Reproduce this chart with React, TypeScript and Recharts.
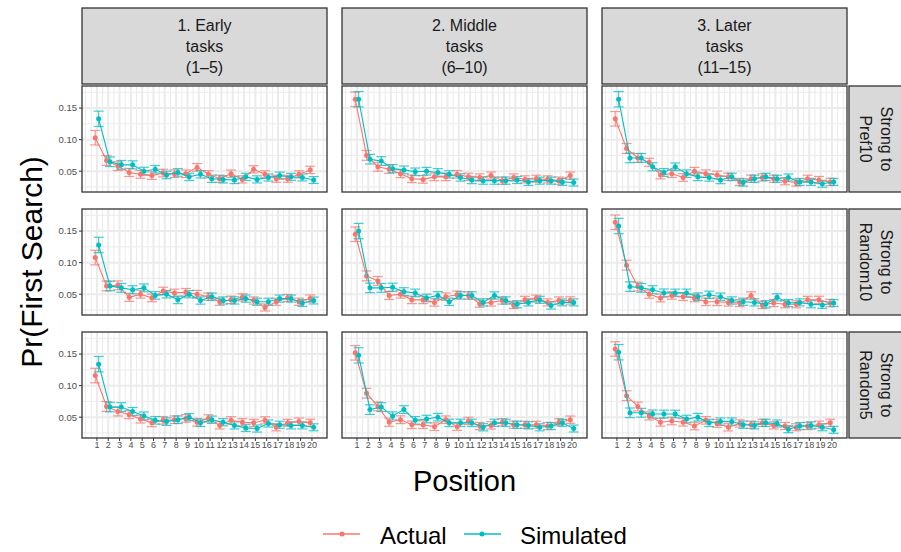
import React from "react";
import { ComposedChart, Scatter, ErrorBar, XAxis, YAxis, CartesianGrid } from "recharts";

const FONT = "'Liberation Sans', Arial, Helvetica, sans-serif";
const RED = "#F8766D";
const CYAN = "#00BFC4";

const positions = [1, 2, 3, 4, 5, 6, 7, 8, 9, 10, 11, 12, 13, 14, 15, 16, 17, 18, 19, 20];
const yTicks = [0.05, 0.1, 0.15];
const yMinor = [0.025, 0.075, 0.125, 0.175];
const xMinor = [0, 0.5, 1.5, 2.5, 3.5, 4.5, 5.5, 6.5, 7.5, 8.5, 9.5, 10.5, 11.5, 12.5, 13.5, 14.5, 15.5, 16.5, 17.5, 18.5, 19.5, 20.5, 21];

const colLabels = [
  ["1. Early", "tasks", "(1–5)"],
  ["2. Middle", "tasks", "(6–10)"],
  ["3. Later", "tasks", "(11–15)"],
];
const rowLabels = [
  ["Strong to", "Pref10"],
  ["Strong to", "Random10"],
  ["Strong to", "Random5"],
];

// Pref10
const actualPref10Early = [0.103, 0.067, 0.058, 0.048, 0.045, 0.043, 0.047, 0.046, 0.046, 0.056, 0.045, 0.038, 0.046, 0.037, 0.053, 0.045, 0.038, 0.038, 0.045, 0.052];
const simPref10Early = [0.133, 0.065, 0.06, 0.06, 0.05, 0.053, 0.044, 0.048, 0.041, 0.045, 0.038, 0.037, 0.036, 0.041, 0.037, 0.04, 0.043, 0.041, 0.04, 0.036];
const actualPref10Middle = [0.164, 0.075, 0.057, 0.053, 0.046, 0.038, 0.037, 0.041, 0.041, 0.045, 0.041, 0.04, 0.043, 0.035, 0.04, 0.037, 0.038, 0.037, 0.035, 0.043];
const simPref10Middle = [0.164, 0.069, 0.066, 0.054, 0.052, 0.049, 0.05, 0.048, 0.045, 0.04, 0.036, 0.035, 0.035, 0.035, 0.036, 0.033, 0.035, 0.035, 0.033, 0.032];
const actualPref10Later = [0.133, 0.086, 0.071, 0.064, 0.044, 0.046, 0.04, 0.05, 0.046, 0.044, 0.041, 0.033, 0.038, 0.04, 0.038, 0.034, 0.032, 0.038, 0.036, 0.033];
const simPref10Later = [0.164, 0.071, 0.071, 0.057, 0.048, 0.057, 0.046, 0.041, 0.04, 0.036, 0.041, 0.032, 0.038, 0.041, 0.038, 0.04, 0.033, 0.033, 0.03, 0.033];

// Random10
const actualRandom10Early = [0.108, 0.063, 0.064, 0.045, 0.05, 0.044, 0.055, 0.052, 0.053, 0.05, 0.046, 0.038, 0.041, 0.045, 0.04, 0.029, 0.038, 0.044, 0.038, 0.043];
const simRandom10Early = [0.128, 0.063, 0.06, 0.057, 0.06, 0.048, 0.05, 0.041, 0.05, 0.04, 0.046, 0.04, 0.04, 0.043, 0.038, 0.038, 0.043, 0.043, 0.036, 0.04];
const actualRandom10Middle = [0.145, 0.079, 0.071, 0.048, 0.05, 0.041, 0.041, 0.037, 0.046, 0.049, 0.048, 0.035, 0.037, 0.04, 0.033, 0.041, 0.043, 0.037, 0.04, 0.04];
const simRandom10Middle = [0.15, 0.06, 0.06, 0.061, 0.054, 0.052, 0.044, 0.048, 0.038, 0.048, 0.048, 0.037, 0.048, 0.04, 0.034, 0.037, 0.041, 0.032, 0.037, 0.037];
const actualRandom10Later = [0.164, 0.096, 0.062, 0.05, 0.044, 0.048, 0.046, 0.044, 0.038, 0.038, 0.037, 0.036, 0.048, 0.033, 0.036, 0.034, 0.034, 0.041, 0.041, 0.036];
const simRandom10Later = [0.158, 0.062, 0.06, 0.057, 0.052, 0.052, 0.052, 0.046, 0.049, 0.046, 0.04, 0.038, 0.037, 0.034, 0.045, 0.036, 0.037, 0.034, 0.033, 0.036];

// Random5
const actualRandom5Early = [0.116, 0.067, 0.059, 0.054, 0.047, 0.041, 0.045, 0.046, 0.048, 0.042, 0.048, 0.037, 0.045, 0.042, 0.041, 0.045, 0.034, 0.041, 0.043, 0.041];
const simRandom5Early = [0.134, 0.066, 0.066, 0.059, 0.052, 0.045, 0.043, 0.046, 0.05, 0.041, 0.046, 0.042, 0.037, 0.033, 0.032, 0.04, 0.038, 0.037, 0.037, 0.034];
const actualRandom5Middle = [0.152, 0.088, 0.067, 0.042, 0.046, 0.038, 0.038, 0.035, 0.046, 0.035, 0.044, 0.036, 0.037, 0.042, 0.038, 0.038, 0.038, 0.036, 0.042, 0.046];
const simRandom5Middle = [0.148, 0.062, 0.066, 0.052, 0.062, 0.045, 0.047, 0.05, 0.041, 0.041, 0.041, 0.034, 0.041, 0.041, 0.038, 0.037, 0.034, 0.036, 0.041, 0.032];
const actualRandom5Later = [0.158, 0.084, 0.067, 0.052, 0.042, 0.044, 0.042, 0.036, 0.045, 0.04, 0.034, 0.04, 0.038, 0.041, 0.037, 0.036, 0.034, 0.036, 0.038, 0.041];
const simRandom5Later = [0.153, 0.057, 0.057, 0.055, 0.055, 0.055, 0.047, 0.05, 0.041, 0.043, 0.043, 0.038, 0.037, 0.041, 0.04, 0.031, 0.036, 0.037, 0.034, 0.03];

// standard errors (half length of the bars)
const errActual = [0.0115, 0.0078, 0.007, 0.0064, 0.0062, 0.006, 0.006, 0.006, 0.006, 0.006, 0.0058, 0.0057, 0.0058, 0.0057, 0.0057, 0.0056, 0.0056, 0.0056, 0.0057, 0.0058];
const errSim = [0.0122, 0.0076, 0.007, 0.0064, 0.0062, 0.006, 0.006, 0.006, 0.0058, 0.0058, 0.0058, 0.0057, 0.0057, 0.0057, 0.0056, 0.0056, 0.0056, 0.0056, 0.0055, 0.0055];

const actualGrid = [
  [actualPref10Early, actualPref10Middle, actualPref10Later],
  [actualRandom10Early, actualRandom10Middle, actualRandom10Later],
  [actualRandom5Early, actualRandom5Middle, actualRandom5Later],
];
const simGrid = [
  [simPref10Early, simPref10Middle, simPref10Later],
  [simRandom10Early, simRandom10Middle, simRandom10Later],
  [simRandom5Early, simRandom5Middle, simRandom5Later],
];

// layout
const PX = [82, 342, 602];
const PY = [86, 209, 332];
const PW = 245;
const PH = 106;
const YW = 40;
const XH = 22;

const dot = (color: string) => (p: any) => <circle cx={p.cx} cy={p.cy} r={2.5} fill={color} />;
const noTick = () => <g />;

function Panel({ row, col }: { row: number; col: number }) {
  const a = actualGrid[row][col];
  const s = simGrid[row][col];
  const dA = positions.map((p, i) => ({ x: p - 0.15, y: a[i], e: errActual[i] }));
  const dS = positions.map((p, i) => ({ x: p + 0.15, y: s[i], e: errSim[i] }));
  const showY = col === 0;
  const showX = row === 2;
  return (
    <div style={{ position: "absolute", left: PX[col] - YW, top: PY[row] }}>
      <ComposedChart width={PW + YW} height={PH + XH} margin={{ top: 0, right: 0, bottom: 0, left: 0 }}>
        <CartesianGrid verticalValues={xMinor} horizontalValues={yMinor} stroke="#EBEBEB" strokeWidth={1} />
        <CartesianGrid verticalValues={positions} horizontalValues={yTicks} stroke="#EBEBEB" strokeWidth={2} />
        <XAxis
          type="number"
          dataKey="x"
          domain={[-0.32, 21.33]}
          ticks={positions}
          interval={0}
          allowDataOverflow
          axisLine={false}
          height={XH}
          tickSize={3}
          tickMargin={1}
          tickLine={{ stroke: showX ? "#333333" : "none" }}
          tick={showX ? { fontSize: 9, fill: "#4D4D4D", fontFamily: FONT } : noTick}
        />
        <YAxis
          type="number"
          dataKey="y"
          domain={[0.017, 0.185]}
          ticks={yTicks}
          allowDataOverflow
          axisLine={false}
          width={YW}
          tickSize={3}
          tickMargin={2}
          tickFormatter={(v: number) => v.toFixed(2)}
          tickLine={{ stroke: showY ? "#333333" : "none" }}
          tick={showY ? { fontSize: 9.5, fill: "#4D4D4D", fontFamily: FONT } : noTick}
        />
        <Scatter data={dA} fill={RED} line={{ stroke: RED, strokeWidth: 1.1 }} lineType="joint" shape={dot(RED)} isAnimationActive={false}>
          <ErrorBar dataKey="e" direction="y" width={5} stroke={RED} strokeOpacity={0.75} strokeWidth={1.2} />
        </Scatter>
        <Scatter data={dS} fill={CYAN} line={{ stroke: CYAN, strokeWidth: 1.1 }} lineType="joint" shape={dot(CYAN)} isAnimationActive={false}>
          <ErrorBar dataKey="e" direction="y" width={5} stroke={CYAN} strokeOpacity={0.75} strokeWidth={1.2} />
        </Scatter>
      </ComposedChart>
    </div>
  );
}

export default function App() {
  const rows = [0, 1, 2];
  const cols = [0, 1, 2];
  return (
    <div style={{ position: "absolute", left: 0, top: 0, width: 901, height: 552, background: "#fff", overflow: "hidden" }}>
      {rows.map((r) => cols.map((c) => <Panel key={`${r}-${c}`} row={r} col={c} />))}
      <svg width={901} height={552} style={{ position: "absolute", left: 0, top: 0, pointerEvents: "none" }} fontFamily={FONT}>
        {rows.map((r) =>
          cols.map((c) => (
            <rect key={`b${r}${c}`} x={PX[c]} y={PY[r]} width={PW} height={PH} fill="none" stroke="#333333" strokeWidth={1.3} />
          ))
        )}
        {cols.map((c) => (
          <g key={`cs${c}`}>
            <rect x={PX[c]} y={8} width={PW} height={76} fill="#D9D9D9" stroke="#333333" strokeWidth={1.3} />
            {colLabels[c].map((t, i) => (
              <text key={i} x={PX[c] + PW / 2} y={25 + i * 21} textAnchor="middle" dominantBaseline="central" fontSize={16} fill="#1A1A1A">
                {t}
              </text>
            ))}
          </g>
        ))}
        {rows.map((r) => (
          <g key={`rs${r}`}>
            <rect x={849} y={PY[r]} width={60} height={PH} fill="#D9D9D9" stroke="#333333" strokeWidth={1.3} />
            {rowLabels[r].map((t, i) => (
              <text
                key={i}
                transform={`translate(${886 - i * 21}, ${PY[r] + PH / 2}) rotate(90)`}
                textAnchor="middle"
                dominantBaseline="central"
                fontSize={16}
                fill="#1A1A1A"
              >
                {t}
              </text>
            ))}
          </g>
        ))}
        <text transform="translate(31, 262) rotate(-90)" textAnchor="middle" dominantBaseline="central" fontSize={30} fill="#000">
          Pr(First Search)
        </text>
        <text x={464.5} y={481} textAnchor="middle" dominantBaseline="central" fontSize={29} fill="#000">
          Position
        </text>
        <line x1={323} x2={360} y1={534} y2={534} stroke={RED} strokeWidth={1.3} />
        <circle cx={342} cy={534} r={2.5} fill={RED} />
        <text x={380} y={535} dominantBaseline="central" fontSize={24} fill="#000">
          Actual
        </text>
        <line x1={464} x2={501} y1={534} y2={534} stroke={CYAN} strokeWidth={1.3} />
        <circle cx={482} cy={534} r={2.5} fill={CYAN} />
        <text x={520} y={535} dominantBaseline="central" fontSize={24} fill="#000">
          Simulated
        </text>
      </svg>
    </div>
  );
}
